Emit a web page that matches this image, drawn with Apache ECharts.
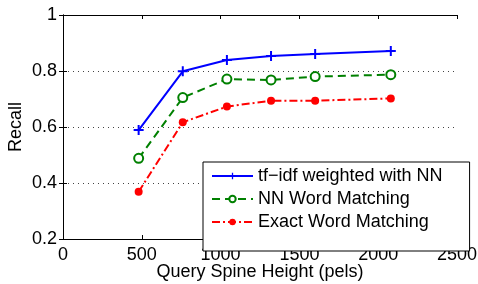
<!DOCTYPE html>
<html>
<head>
<meta charset="utf-8">
<script src="https://cdn.jsdelivr.net/npm/echarts@6/dist/echarts.min.js"></script>
<style>
  html, body { margin: 0; padding: 0; background: #fff; }
  #main { width: 478px; height: 284px; }
</style>
</head>
<body>
<div id="main"></div>
<script>
// query spine height (pels)
const spineHeights = [480, 760, 1040, 1320, 1600, 2080];
// recall per method
const tfidfNN = [0.589, 0.799, 0.839, 0.854, 0.861, 0.871];
const nnWordMatching = [0.488, 0.705, 0.771, 0.768, 0.780, 0.787];
const exactWordMatching = [0.369, 0.617, 0.673, 0.694, 0.694, 0.702];
const seriesNames = ["tf\u2212idf weighted with NN", "NN Word Matching", "Exact Word Matching"];
const xTicks = [0, 500, 1000, 1500, 2000, 2500];
const yTicks = [0.2, 0.4, 0.6, 0.8, 1];

const font = "'Liberation Sans', Arial, Helvetica, sans-serif";
const toPairs = (ys) => spineHeights.map((x, i) => [x, ys[i]]);
// plus marker as a filled cross
const plusPath = "path://M4,0h2v4h4v2h-4v4h-2v-4h-4v-2h4z";

let myChart = echarts.init(document.getElementById("main"));

let frameAxis = {
  axisLine: { show: true, lineStyle: { color: "#000", width: 1 } },
  axisTick: { show: true, inside: true, length: 4, lineStyle: { color: "#000" } },
  splitLine: { show: false },
};

let option = {
  animation: false,
  backgroundColor: "#fff",
  textStyle: { fontFamily: font },
  grid: { left: 63, right: 21, top: 15, bottom: 45, containLabel: false, outerBoundsMode: "none" },
  legend: {
    orient: "vertical",
    left: 203,
    top: 162,
    padding: [5, 27, 20, 8],
    itemWidth: 41,
    itemHeight: 8,
    itemGap: 5,
    borderColor: "#000",
    borderWidth: 1,
    backgroundColor: "#fff",
    textStyle: { fontFamily: font, fontSize: 18, color: "#000", lineHeight: 18 },
    data: seriesNames,
  },
  xAxis: [
    Object.assign({}, frameAxis, {
      type: "value",
      position: "bottom",
      min: xTicks[0],
      max: xTicks[xTicks.length - 1],
      interval: 500,
      name: "Query Spine Height (pels)",
      nameLocation: "middle",
      nameGap: 24,
      nameMoveOverlap: false,
      nameTextStyle: { fontFamily: font, fontSize: 18, color: "#000" },
      axisLabel: { fontFamily: font, fontSize: 18, color: "#000", margin: 7, formatter: (v) => String(v) },
    }),
    Object.assign({}, frameAxis, {
      type: "value",
      position: "top",
      min: xTicks[0],
      max: xTicks[xTicks.length - 1],
      interval: 500,
      axisLabel: { show: false },
    }),
  ],
  yAxis: [
    Object.assign({}, frameAxis, {
      type: "value",
      position: "left",
      min: yTicks[0],
      max: yTicks[yTicks.length - 1],
      interval: 0.2,
      name: "Recall",
      nameLocation: "middle",
      nameGap: 38,
      nameMoveOverlap: false,
      nameTextStyle: { fontFamily: font, fontSize: 18, color: "#000" },
      axisLabel: { fontFamily: font, fontSize: 18, color: "#000", margin: 6 },
      splitLine: { show: true, lineStyle: { color: "#444", width: 1, type: [1, 4] } },
    }),
    Object.assign({}, frameAxis, {
      type: "value",
      position: "right",
      min: yTicks[0],
      max: yTicks[yTicks.length - 1],
      interval: 0.2,
      axisLabel: { show: false },
    }),
  ],
  series: [
    {
      name: seriesNames[0],
      type: "line",
      data: toPairs(tfidfNN),
      symbol: plusPath,
      symbolSize: 10,
      color: "#0000ff",
      lineStyle: { color: "#0000ff", width: 2, type: "solid" },
      itemStyle: { color: "#0000ff" },
      z: 4,
    },
    {
      name: seriesNames[1],
      type: "line",
      data: toPairs(nnWordMatching),
      symbol: "emptyCircle",
      symbolSize: 9,
      color: "#008000",
      lineStyle: { color: "#008000", width: 2, type: [8, 5] },
      itemStyle: { color: "#008000", borderColor: "#008000", borderWidth: 2 },
      z: 3,
    },
    {
      name: seriesNames[2],
      type: "line",
      data: toPairs(exactWordMatching),
      symbol: "circle",
      symbolSize: 8,
      color: "#ff0000",
      lineStyle: { color: "#ff0000", width: 2, type: [8, 3, 2, 3] },
      itemStyle: { color: "#ff0000" },
      z: 2,
    },
  ],
};

myChart.setOption(option);
</script>
</body>
</html>
